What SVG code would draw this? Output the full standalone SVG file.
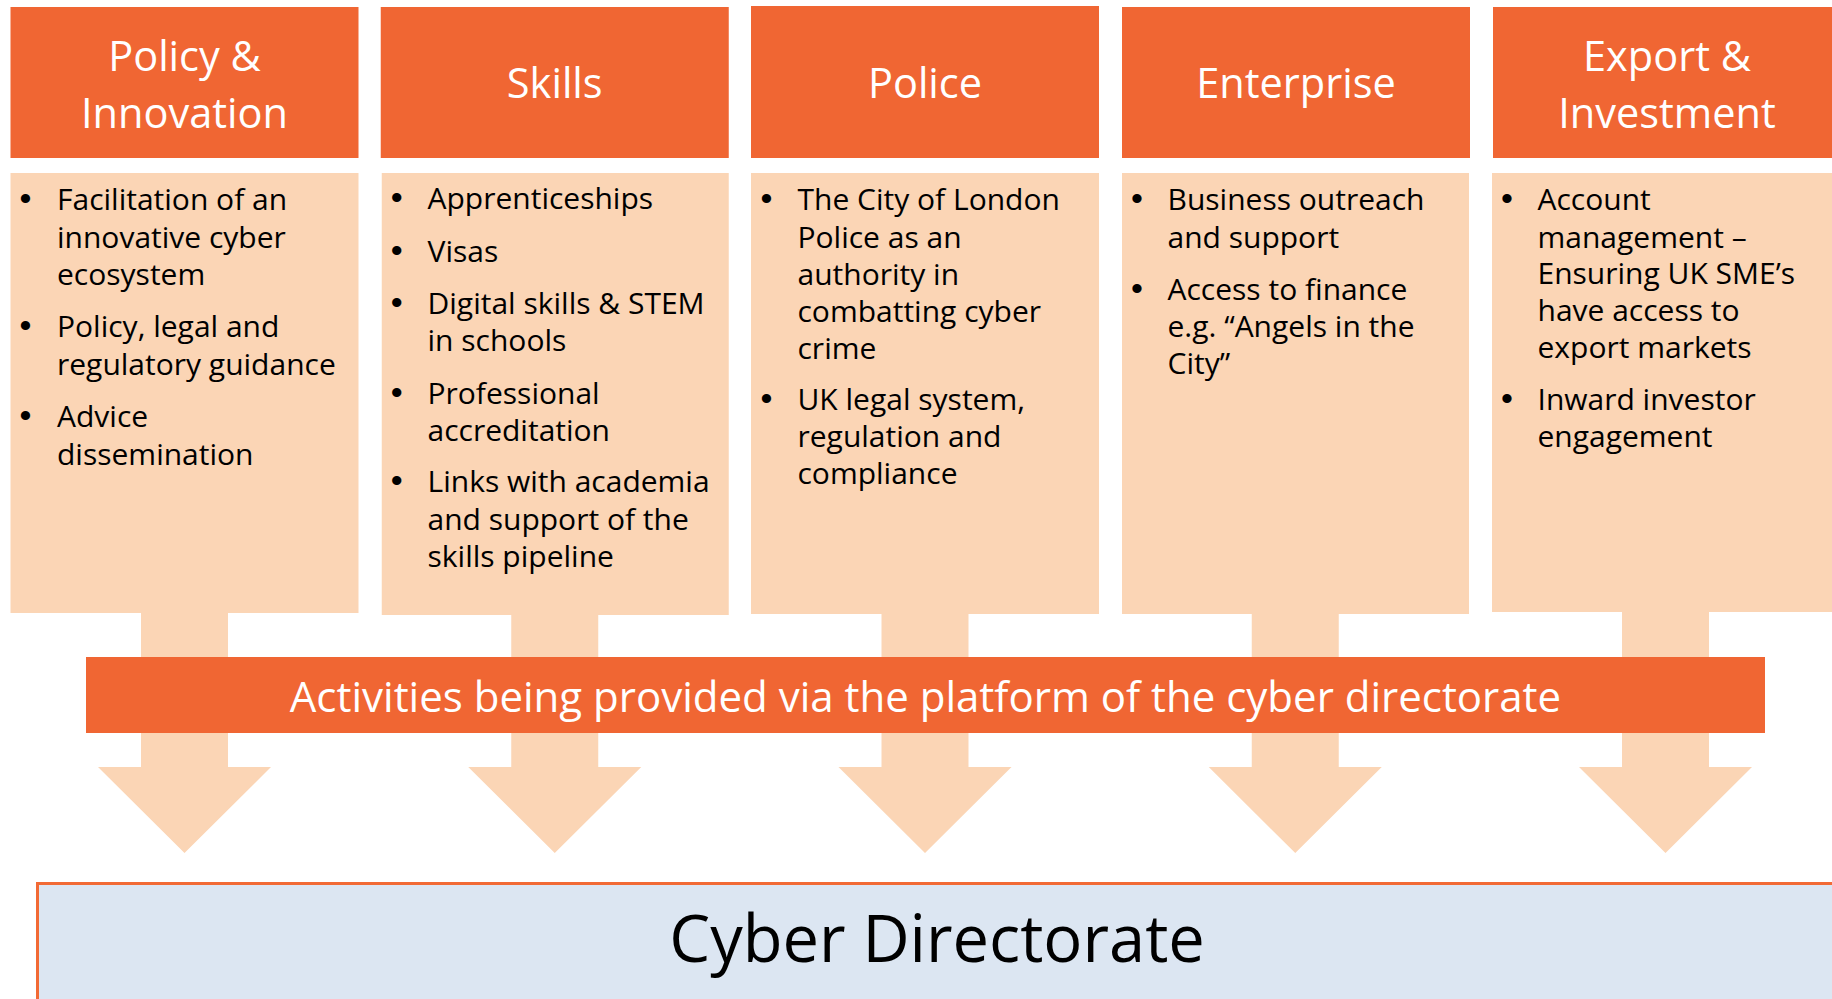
<svg xmlns="http://www.w3.org/2000/svg" width="1832" height="999" viewBox="0 0 1832 999">
  <style>
    .head { fill: #F06633; }
    .body { fill: #FBD5B5; }
    .flow { fill: #FBD5B5; }
    .htxt { font-family: "Open Sans", "Noto Sans", sans-serif; font-size: 41.5px; fill: #FFFFFF; text-anchor: middle; }
    .btxt { font-family: "Open Sans", "Noto Sans", sans-serif; font-size: 30px; fill: #000000; }
    .dot  { font-family: "Liberation Sans", Arial, sans-serif; font-size: 34px; fill: #000000; text-anchor: middle; }
    .band { fill: #F06633; }
    .bandtxt { font-family: "Open Sans", "Noto Sans", sans-serif; font-size: 42px; fill: #FFFFFF; text-anchor: middle; }
    .base { fill: #DCE6F2; stroke: #F26A35; stroke-width: 3; }
    .basetxt { font-family: "Open Sans", "Noto Sans", sans-serif; font-size: 65px; fill: #000000; text-anchor: middle; }
  </style>

  <!-- downward arrows from each column into the directorate -->
  <g id="connectors">
    <polygon class="flow" points="141,600 228,600 228,767 271,767 184.5,853 98,767 141,767"/>
    <polygon class="flow" points="511.25,600 598.25,600 598.25,767 641.25,767 554.75,853 468.25,767 511.25,767"/>
    <polygon class="flow" points="881.5,600 968.5,600 968.5,767 1011.5,767 925,853 838.5,767 881.5,767"/>
    <polygon class="flow" points="1251.75,600 1338.75,600 1338.75,767 1381.75,767 1295.25,853 1208.75,767 1251.75,767"/>
    <polygon class="flow" points="1622,600 1709,600 1709,767 1752,767 1665.5,853 1579,767 1622,767"/>
  </g>

  <!-- column 1 -->
  <g id="policy-innovation">
    <rect class="head" x="10.5" y="7" width="348" height="151"/>
    <text class="htxt" x="184.5" y="71">Policy &amp;</text>
    <text class="htxt" x="184.5" y="128">Innovation</text>
    <rect class="body" x="10.5" y="173" width="348" height="440"/>
    <text class="dot" x="25.5" y="210">•</text>
    <text class="btxt" x="57" y="210">Facilitation of an</text>
    <text class="btxt" x="57" y="247.5">innovative cyber</text>
    <text class="btxt" x="57" y="285">ecosystem</text>
    <text class="dot" x="25.5" y="337">•</text>
    <text class="btxt" x="57" y="337">Policy, legal and</text>
    <text class="btxt" x="57" y="374.5">regulatory guidance</text>
    <text class="dot" x="25.5" y="427">•</text>
    <text class="btxt" x="57" y="427">Advice</text>
    <text class="btxt" x="57" y="464.5">dissemination</text>
  </g>

  <!-- column 2 -->
  <g id="skills">
    <rect class="head" x="380.75" y="7" width="348" height="151"/>
    <text class="htxt" x="554.75" y="98">Skills</text>
    <rect class="body" x="381.75" y="173" width="347" height="442"/>
    <text class="dot" x="396.75" y="209">•</text>
    <text class="btxt" x="427.5" y="209">Apprenticeships</text>
    <text class="dot" x="396.75" y="261.5">•</text>
    <text class="btxt" x="427.5" y="261.5">Visas</text>
    <text class="dot" x="396.75" y="313.5">•</text>
    <text class="btxt" x="427.5" y="313.5">Digital skills &amp; STEM</text>
    <text class="btxt" x="427.5" y="351">in schools</text>
    <text class="dot" x="396.75" y="403.5">•</text>
    <text class="btxt" x="427.5" y="403.5">Professional</text>
    <text class="btxt" x="427.5" y="441">accreditation</text>
    <text class="dot" x="396.75" y="492">•</text>
    <text class="btxt" x="427.5" y="492">Links with academia</text>
    <text class="btxt" x="427.5" y="529.5">and support of the</text>
    <text class="btxt" x="427.5" y="567">skills pipeline</text>
  </g>

  <!-- column 3 -->
  <g id="police">
    <rect class="head" x="751" y="6" width="348" height="152"/>
    <text class="htxt" x="925" y="98">Police</text>
    <rect class="body" x="751" y="173" width="348" height="441"/>
    <text class="dot" x="766.5" y="210">•</text>
    <text class="btxt" x="797.5" y="210">The City of London</text>
    <text class="btxt" x="797.5" y="247.5">Police as an</text>
    <text class="btxt" x="797.5" y="284.5">authority in</text>
    <text class="btxt" x="797.5" y="321.5">combatting cyber</text>
    <text class="btxt" x="797.5" y="358.5">crime</text>
    <text class="dot" x="766.5" y="410">•</text>
    <text class="btxt" x="797.5" y="410">UK legal system,</text>
    <text class="btxt" x="797.5" y="447">regulation and</text>
    <text class="btxt" x="797.5" y="483.5">compliance</text>
  </g>

  <!-- column 4 -->
  <g id="enterprise">
    <rect class="head" x="1122" y="7" width="348" height="151"/>
    <text class="htxt" x="1296" y="98">Enterprise</text>
    <rect class="body" x="1122" y="173" width="347" height="441"/>
    <text class="dot" x="1137" y="210">•</text>
    <text class="btxt" x="1167.5" y="210">Business outreach</text>
    <text class="btxt" x="1167.5" y="247.5">and support</text>
    <text class="dot" x="1137" y="300">•</text>
    <text class="btxt" x="1167.5" y="300">Access to finance</text>
    <text class="btxt" x="1167.5" y="337">e.g. “Angels in the</text>
    <text class="btxt" x="1167.5" y="373.5">City”</text>
  </g>

  <!-- column 5 -->
  <g id="export-investment">
    <rect class="head" x="1493" y="7" width="348" height="151"/>
    <text class="htxt" x="1667" y="71">Export &amp;</text>
    <text class="htxt" x="1667" y="128">Investment</text>
    <rect class="body" x="1492" y="173" width="348" height="439"/>
    <text class="dot" x="1507" y="210">•</text>
    <text class="btxt" x="1537.5" y="210">Account</text>
    <text class="btxt" x="1537.5" y="247.5">management –</text>
    <text class="btxt" x="1537.5" y="284">Ensuring UK SME’s</text>
    <text class="btxt" x="1537.5" y="321">have access to</text>
    <text class="btxt" x="1537.5" y="358">export markets</text>
    <text class="dot" x="1507" y="410">•</text>
    <text class="btxt" x="1537.5" y="410">Inward investor</text>
    <text class="btxt" x="1537.5" y="447">engagement</text>
  </g>

  <!-- platform banner across the arrows -->
  <g id="platform">
    <rect class="band" x="86" y="657" width="1679" height="76"/>
    <text class="bandtxt" x="925.5" y="712">Activities being provided via the platform of the cyber directorate</text>
  </g>

  <!-- directorate base -->
  <g id="cyber-directorate">
    <rect class="base" x="37.5" y="883.5" width="1820" height="140"/>
    <text class="basetxt" x="937" y="962">Cyber Directorate</text>
  </g>
</svg>
